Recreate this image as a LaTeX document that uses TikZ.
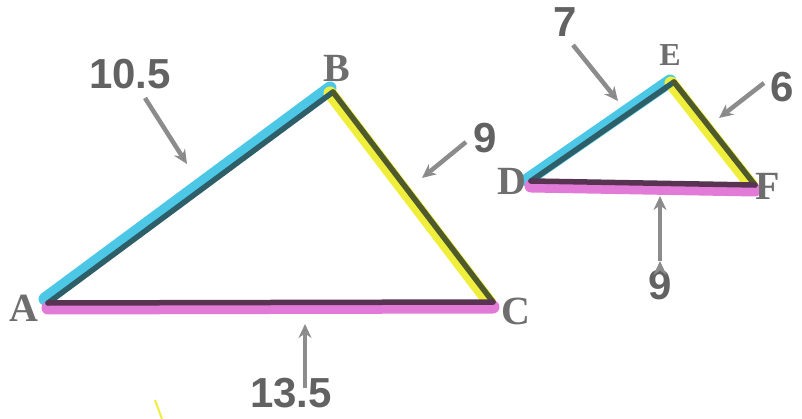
\documentclass[tikz,border=0pt]{standalone}
\usepackage{fontspec}
\setmainfont{Liberation Serif}
\setsansfont{Liberation Sans}
\usetikzlibrary{arrows.meta}

\definecolor{hlcyan}{HTML}{4CC8E6}
\definecolor{inkteal}{HTML}{2E5E68}
\definecolor{hlyellow}{HTML}{F0EE3C}
\definecolor{inkolive}{HTML}{4E5A2C}
\definecolor{hlpink}{HTML}{E27AD8}
\definecolor{inkplum}{HTML}{583452}
\definecolor{lettergray}{HTML}{6E6E6E}
\definecolor{numgray}{HTML}{626262}
\definecolor{arrowgray}{HTML}{8C8C8C}

\begin{document}
\begin{tikzpicture}[x=1pt, y=-1pt, >={Stealth[length=14pt, width=13pt]},
  vertex/.style={font=\bfseries\fontsize{40}{40}\selectfont, text=lettergray, inner sep=0pt},
  measure/.style={font=\sffamily\bfseries\fontsize{42}{42}\selectfont, text=numgray, inner sep=0pt},
  pointer/.style={->, draw=arrowgray, line width=4.5pt},
  hl/.style={line width=13pt, line cap=round},
  ink/.style={line width=5.5pt, line cap=round}]

\useasboundingbox[fill=white] (0,0) rectangle (802,419);

% big triangle
\coordinate (A) at (48,303);
\coordinate (B) at (333,92);
\coordinate (C) at (493,302);
% small triangle
\coordinate (D) at (531,181);
\coordinate (E) at (674,82);
\coordinate (F) at (755,185);

% highlighter
\draw[hl, hlcyan, transform canvas={shift={(-3pt,4pt)}}] (A) -- (B);
\draw[hl, hlyellow, transform canvas={shift={(-3pt,-1pt)}}] (B) -- (C);
\draw[hl, hlpink, transform canvas={shift={(0pt,-5pt)}}] (A) -- (C);
\draw[hl, hlcyan, transform canvas={shift={(-4pt,1pt)}}] (D) -- (E);
\draw[hl, hlyellow, transform canvas={shift={(-3pt,-1pt)}}] (E) -- (F);
\draw[hl, hlpink, transform canvas={shift={(0pt,-5pt)}}] (D) -- (F);

% pencil sides
\draw[ink, inkteal] (A) -- (B);
\draw[ink, inkolive] (B) -- (C);
\draw[ink, inkplum] (A) -- (C);
\draw[ink, inkteal] (D) -- (E);
\draw[ink, inkolive] (E) -- (F);
\draw[ink, inkplum] (D) -- (F);

% vertex letters
\node[vertex] (labA) at (24,308) {A};
\node[vertex] (labB) at (337,68) {B};
\node[vertex] (labC) at (516,311) {C};
\node[vertex] (labD) at (512,181) {D};
\node[vertex, font=\bfseries\fontsize{32}{32}\selectfont] (labE) at (670,55) {E};
\node[vertex] (labF) at (768,186) {F};

% side lengths
\node[measure] (lenAB) at (130,74) {10.5};
\node[measure] (lenBC) at (485,138) {9};
\node[measure] (lenAC) at (291,393) {13.5};
\node[measure] (lenDE) at (565,22) {7};
\node[measure] (lenEF) at (782,87) {6};
\node[measure] (lenDF) at (660,285) {9};

% arrow ends
\coordinate (tailAB) at (145,98);  \coordinate (tipAB) at (187,164);
\coordinate (tailBC) at (466,142); \coordinate (tipBC) at (422,178);
\coordinate (tailAC) at (305,388); \coordinate (tipAC) at (305,324);
\coordinate (tailDE) at (573,45);  \coordinate (tipDE) at (618,101);
\coordinate (tailEF) at (764,83);  \coordinate (tipEF) at (719,118);
\coordinate (tailDF) at (660,261); \coordinate (tipDF) at (660,196);

\path[pointer]
    (tailAB) edge (tipAB)
    (tailBC) edge (tipBC)
    (tailAC) edge (tipAC)
    (tailDE) edge (tipDE)
    (tailEF) edge (tipEF)
    (tailDF) edge (tipDF);

% stray highlighter mark
\coordinate (strayA) at (155,400);
\coordinate (strayB) at (162,419);
\draw[hlyellow, line width=2pt] (strayA) -- (strayB);
\end{tikzpicture}
\end{document}
